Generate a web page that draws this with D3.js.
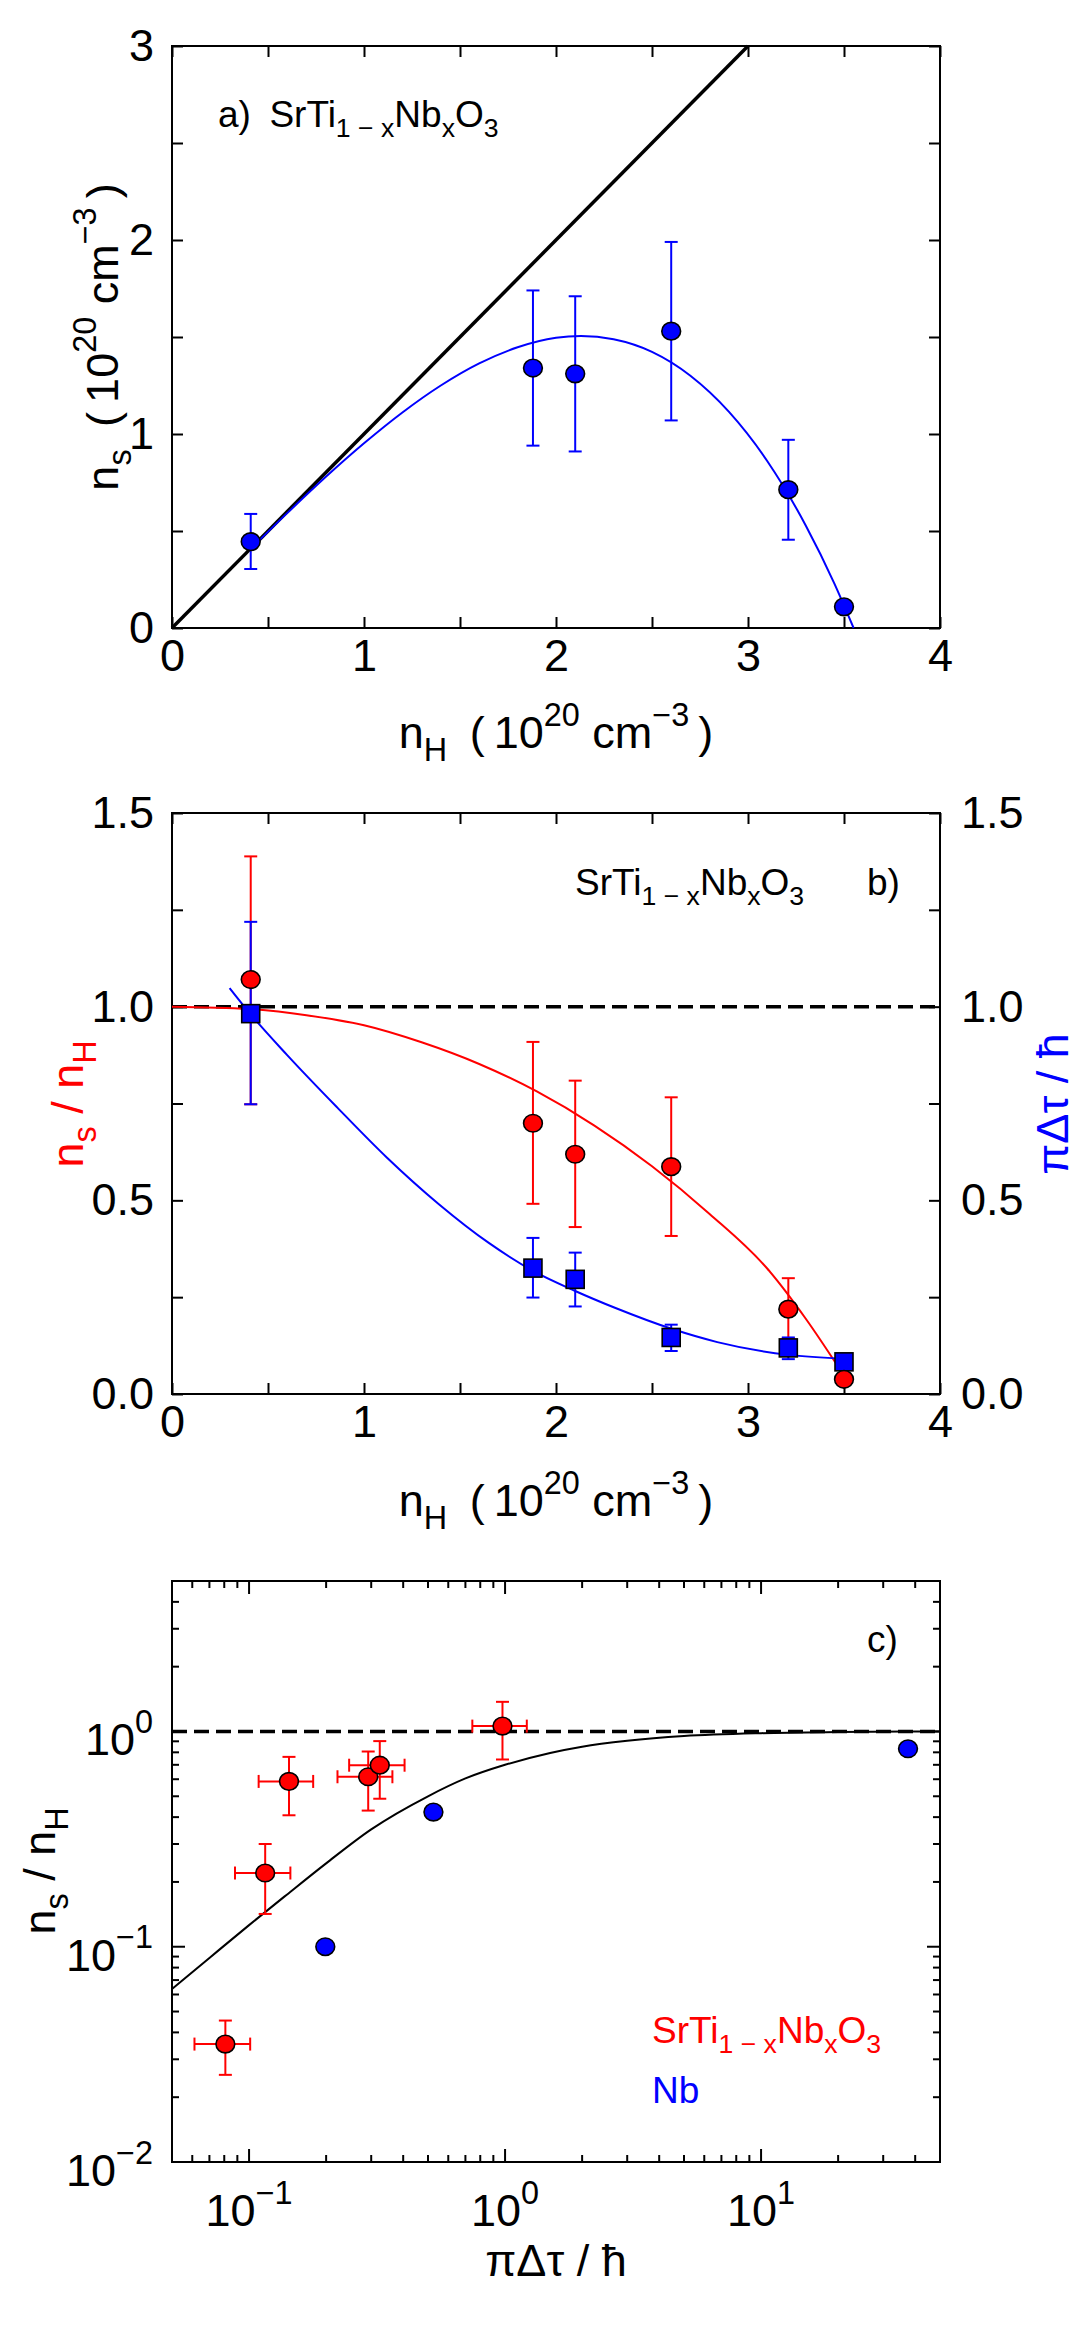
<!DOCTYPE html>
<html><head><meta charset="utf-8">
<script src="https://cdn.jsdelivr.net/npm/d3@7"></script>
<style>body{margin:0;background:#fff}</style>
</head><body>
<svg id="fig" width="1080" height="2325"></svg>
<script>
// ---------- data ----------
// Panel a
const nH      = [0.41, 1.88, 2.10, 2.60, 3.21, 3.50];
const nsA     = [0.445, 1.34, 1.31, 1.53, 0.713, 0.109];
const nsA_lo  = [0.304, 0.94, 0.91, 1.07, 0.455, null];
const nsA_hi  = [0.588, 1.74, 1.71, 1.99, 0.97, null];
const lineA_x = [0, 3];
const lineA_y = [0, 3];
const fitA_x  = [0.42, 0.6, 0.8, 1.0, 1.2, 1.4, 1.6, 1.8, 2.0, 2.13, 2.3, 2.5, 2.7, 2.9, 3.1, 3.3, 3.45, 3.55];
const fitA_y  = [0.418, 0.592, 0.778, 0.952, 1.111, 1.250, 1.364, 1.447, 1.496, 1.505, 1.488, 1.423, 1.30, 1.115, 0.861, 0.530, 0.229, 0.0];

// Panel b
const ratioB    = [1.07, 0.699, 0.619, 0.587, 0.219, 0.038];
const ratioB_lo = [0.748, 0.491, 0.431, 0.408, 0.144, null];
const ratioB_hi = [1.388, 0.909, 0.809, 0.766, 0.299, null];
const gapB      = [0.982, 0.325, 0.296, 0.146, 0.119, 0.083];
const gapB_lo   = [0.748, 0.249, 0.226, 0.111, 0.090, null];
const gapB_hi   = [1.219, 0.403, 0.365, 0.179, 0.146, null];
const fitR_x = [0, 0.4, 0.7, 1.0, 1.3, 1.6, 1.9, 2.2, 2.5, 2.8, 3.1, 3.3, 3.49];
const fitR_y = [1.0, 0.994, 0.978, 0.952, 0.908, 0.852, 0.781, 0.693, 0.588, 0.465, 0.324, 0.195, 0.055];
const fitG_x = [0.30, 0.41, 0.6, 0.86, 1.12, 1.39, 1.65, 1.88, 2.10, 2.31, 2.61, 2.84, 3.21, 3.51];
const fitG_y = [1.048, 0.98, 0.875, 0.74, 0.61, 0.49, 0.39, 0.318, 0.266, 0.222, 0.167, 0.134, 0.101, 0.091];
const refLevel = 1;

// Panel c
const redC_x   = [0.0808, 0.1156, 0.1432, 0.292, 0.324, 0.977];
const redC_y   = [0.0353, 0.220, 0.586, 0.616, 0.697, 1.059];
const redC_xlo = [0.0612, 0.0881, 0.109, 0.2215, 0.246, 0.745];
const redC_xhi = [0.101, 0.145, 0.178, 0.363, 0.405, 1.216];
const redC_ylo = [0.0254, 0.142, 0.408, 0.429, 0.487, 0.741];
const redC_yhi = [0.0454, 0.300, 0.762, 0.807, 0.902, 1.373];
const blueC_x  = [0.1985, 0.525, 37.5];
const blueC_y  = [0.100, 0.422, 0.831];
const curveC_x = [0.05, 0.07, 0.1, 0.14, 0.2, 0.3, 0.5, 0.7, 1.0, 1.5, 2, 3, 5, 10, 20, 50];
const curveC_y = [0.0636, 0.0887, 0.126, 0.174, 0.244, 0.351, 0.50, 0.605, 0.70, 0.795, 0.85, 0.905, 0.952, 0.982, 0.994, 1.0];

// ticks
const linXMajor = [0, 1, 2, 3, 4];
const linXAll   = [0, 0.5, 1, 1.5, 2, 2.5, 3, 3.5, 4];
const aYMajor   = [0, 1, 2, 3];
const aYAll     = [0, 0.5, 1, 1.5, 2, 2.5, 3];
const bYMajor   = [0, 0.5, 1.0, 1.5];
const bYAll     = [0, 0.25, 0.5, 0.75, 1.0, 1.25, 1.5];
const cXDecades = [0.1, 1, 10];
const cXExp     = ["\u22121", "0", "1"];
const cYDecades = [0.01, 0.1, 1];
const cYExp     = ["\u22122", "\u22121", "0"];

// ---------- drawing ----------
const FONT = "'Liberation Sans', Arial, Helvetica, sans-serif";
const TICKFS = 45, LABFS = 45, ANNFS = 37;
const RED = "#ff0000", BLUE = "#0000ff";
const L = 172, R = 940;
const svg = d3.select("#fig").attr("font-family", FONT);
svg.append("rect").attr("width", 1080).attr("height", 2325).attr("fill", "#fff");

function rich(text, parts, fs) {
  let cur = 0;
  parts.forEach(p => {
    const sz = p[1] ? fs * 0.72 : fs;
    const off = p[1] === "sub" ? fs * 0.28 : p[1] === "sup" ? -fs * 0.5 : 0;
    text.append("tspan").attr("font-size", sz).attr("dy", off - cur).text(p[0]);
    cur = off;
  });
  return text;
}
function label(x, y, parts, fs, opt = {}) {
  const t = svg.append("text")
    .attr("transform", `translate(${x},${y})` + (opt.rot ? ` rotate(${opt.rot})` : ""))
    .attr("text-anchor", opt.anchor || "middle")
    .attr("font-size", fs).attr("fill", opt.fill || "#000")
    .style("white-space", "pre");
  return rich(t, parts, fs);
}
function styleAxis(g) {
  g.select(".domain").remove();
  g.selectAll(".tick line").attr("stroke", "#000").attr("stroke-width", 2);
  g.selectAll(".tick text").attr("font-family", FONT).attr("font-size", TICKFS).attr("fill", "#000");
  g.attr("font-family", null).attr("font-size", null);
}
function linFrame(x, y, xAll, xMaj, yAll, yMaj, yfmt, rightLabels) {
  const [y0, y1] = y.range();
  const fx = d => xMaj.includes(d) ? d3.format("d")(d) : "";
  const fy = d => yMaj.includes(d) ? yfmt(d) : "";
  svg.append("g").attr("transform", `translate(0,${y0})`)
    .call(d3.axisBottom(x).tickValues(xAll).tickSize(-11).tickPadding(11).tickFormat(fx)).call(styleAxis);
  svg.append("g").attr("transform", `translate(0,${y1})`)
    .call(d3.axisTop(x).tickValues(xAll).tickSize(-11).tickFormat("")).call(styleAxis);
  svg.append("g").attr("transform", `translate(${L},0)`)
    .call(d3.axisLeft(y).tickValues(yAll).tickSize(-11).tickPadding(18).tickFormat(fy)).call(styleAxis);
  svg.append("g").attr("transform", `translate(${R},0)`)
    .call(d3.axisRight(y).tickValues(yAll).tickSize(-11).tickPadding(21).tickFormat(rightLabels ? fy : "")).call(styleAxis);
  svg.append("rect").attr("x", L).attr("y", y1).attr("width", R - L).attr("height", y0 - y1)
    .attr("fill", "none").attr("stroke", "#000").attr("stroke-width", 2);
}
function zip(a, b) { return a.map((v, i) => [v, b[i]]); }
function drawLine(g, x, y, xs, ys, color, width, dash) {
  const p = g.append("path").datum(zip(xs, ys))
    .attr("d", d3.line().x(d => x(d[0])).y(d => y(d[1])).curve(d3.curveMonotoneX))
    .attr("fill", "none").attr("stroke", color).attr("stroke-width", width);
  if (dash) p.attr("stroke-dasharray", dash);
  return p;
}
function vErr(g, x, y, xs, lo, hi, color) {
  xs.forEach((v, i) => {
    if (lo[i] == null) return;
    const cx = x(v), a = y(lo[i]), b = y(hi[i]);
    g.append("line").attr("x1", cx).attr("x2", cx).attr("y1", a).attr("y2", b).attr("stroke", color).attr("stroke-width", 2);
    [a, b].forEach(yy => g.append("line").attr("x1", cx - 6.5).attr("x2", cx + 6.5).attr("y1", yy).attr("y2", yy).attr("stroke", color).attr("stroke-width", 2));
  });
}
function hErr(g, x, y, ys, lo, hi, color) {
  ys.forEach((v, i) => {
    const cy = y(v), a = x(lo[i]), b = x(hi[i]);
    g.append("line").attr("x1", a).attr("x2", b).attr("y1", cy).attr("y2", cy).attr("stroke", color).attr("stroke-width", 2);
    [a, b].forEach(xx => g.append("line").attr("x1", xx).attr("x2", xx).attr("y1", cy - 6.5).attr("y2", cy + 6.5).attr("stroke", color).attr("stroke-width", 2));
  });
}
function circles(g, x, y, xs, ys, color) {
  g.selectAll(null).data(zip(xs, ys)).join("ellipse")
    .attr("cx", d => x(d[0])).attr("cy", d => y(d[1])).attr("rx", 9.4).attr("ry", 8.8)
    .attr("fill", color).attr("stroke", "#000").attr("stroke-width", 1.6);
}
function squares(g, x, y, xs, ys, color) {
  g.selectAll(null).data(zip(xs, ys)).join("rect")
    .attr("x", d => x(d[0]) - 9).attr("y", d => y(d[1]) - 9).attr("width", 18).attr("height", 18)
    .attr("fill", color).attr("stroke", "#000").attr("stroke-width", 1.6);
}
const SUBF = [["SrTi"], ["1 \u2212 x", "sub"], ["Nb"], ["x", "sub"], ["O"], ["3", "sub"]];
const nUnit = (s) => [["n"], [s, "sub"], ["\u2002(\u200910"], ["20", "sup"], [" cm"], ["\u22123", "sup"], ["\u2009)"]];
const nRatio = [["n"], ["s", "sub"], [" / n"], ["H", "sub"]];

// ===== Panel a =====
const xA = d3.scaleLinear([0, 4], [L, R]);
const yA = d3.scaleLinear([0, 3], [628, 46]);
linFrame(xA, yA, linXAll, linXMajor, aYAll, aYMajor, d3.format("d"), false);
const gA = svg.append("g");
drawLine(gA, xA, yA, lineA_x, lineA_y, "#000", 3.5);
drawLine(gA, xA, yA, fitA_x, fitA_y, BLUE, 2);
vErr(gA, xA, yA, nH, nsA_lo, nsA_hi, BLUE);
circles(gA, xA, yA, nH, nsA, BLUE);
label(218, 127, [["a)\u2002"]].concat(SUBF), ANNFS, {anchor: "start"});
label(556, 748, nUnit("H"), LABFS);
label(118, 337, nUnit("s"), LABFS, {rot: -90});

// ===== Panel b =====
const xB = d3.scaleLinear([0, 4], [L, R]);
const yB = d3.scaleLinear([0, 1.5], [1394, 813]);
linFrame(xB, yB, linXAll, linXMajor, bYAll, bYMajor, d3.format(".1f"), true);
const gB = svg.append("g");
drawLine(gB, xB, yB, [0, 4], [refLevel, refLevel], "#000", 3.5, "15,7");
drawLine(gB, xB, yB, fitR_x, fitR_y, RED, 2);
drawLine(gB, xB, yB, fitG_x, fitG_y, BLUE, 2);
vErr(gB, xB, yB, nH, ratioB_lo, ratioB_hi, RED);
vErr(gB, xB, yB, nH, gapB_lo, gapB_hi, BLUE);
squares(gB, xB, yB, nH, gapB, BLUE);
circles(gB, xB, yB, nH, ratioB, RED);
label(575, 895, SUBF, ANNFS, {anchor: "start"});
label(867, 895, [["b)"]], ANNFS, {anchor: "start"});
label(556, 1516, nUnit("H"), LABFS);
label(83, 1104, nRatio, LABFS, {rot: -90, fill: RED});
label(1068, 1104, [["\u03c0\u0394\u03c4 / \u0127"]], LABFS, {rot: -90, fill: BLUE});

// ===== Panel c =====
const xC = d3.scaleLog([0.05, 50], [L, R]);
const yC = d3.scaleLog([0.01, 5], [2162, 1581]);
function logTicks(dom) {
  const out = [];
  for (let e = -3; e <= 2; e++) for (let m = 1; m <= 9; m++) {
    const v = m * Math.pow(10, e);
    if (v >= dom[0] * 0.999 && v <= dom[1] * 1.001) out.push({v, major: m === 1});
  }
  return out;
}
const gC = svg.append("g");
logTicks(xC.domain()).forEach(t => {
  const len = t.major ? 13 : 7, xx = xC(t.v);
  gC.append("line").attr("x1", xx).attr("x2", xx).attr("y1", 2162).attr("y2", 2162 - len).attr("stroke", "#000").attr("stroke-width", 2);
  gC.append("line").attr("x1", xx).attr("x2", xx).attr("y1", 1581).attr("y2", 1581 + len).attr("stroke", "#000").attr("stroke-width", 2);
});
logTicks(yC.domain()).forEach(t => {
  const len = t.major ? 13 : 7, yy = yC(t.v);
  gC.append("line").attr("x1", L).attr("x2", L + len).attr("y1", yy).attr("y2", yy).attr("stroke", "#000").attr("stroke-width", 2);
  gC.append("line").attr("x1", R).attr("x2", R - len).attr("y1", yy).attr("y2", yy).attr("stroke", "#000").attr("stroke-width", 2);
});
svg.append("rect").attr("x", L).attr("y", 1581).attr("width", R - L).attr("height", 2162 - 1581)
  .attr("fill", "none").attr("stroke", "#000").attr("stroke-width", 2);
cXDecades.forEach((v, i) => label(xC(v), 2226, [["10"], [cXExp[i], "sup"]], TICKFS));
cYDecades.forEach((v, i) => label(153, yC(v) + 24, [["10"], [cYExp[i], "sup"]], TICKFS, {anchor: "end"}));
drawLine(gC, xC, yC, [0.05, 50], [refLevel, refLevel], "#000", 3.5, "15,7");
drawLine(gC, xC, yC, curveC_x, curveC_y, "#000", 2);
hErr(gC, xC, yC, redC_y, redC_xlo, redC_xhi, RED);
vErr(gC, xC, yC, redC_x, redC_ylo, redC_yhi, RED);
circles(gC, xC, yC, redC_x, redC_y, RED);
circles(gC, xC, yC, blueC_x, blueC_y, BLUE);
label(867, 1652, [["c)"]], ANNFS, {anchor: "start"});
label(652, 2043, SUBF, ANNFS, {anchor: "start", fill: RED});
label(652, 2103, [["Nb"]], ANNFS, {anchor: "start", fill: BLUE});
label(556, 2276, [["\u03c0\u0394\u03c4 / \u0127"]], LABFS);
label(55, 1871, nRatio, LABFS, {rot: -90});
</script>
</body></html>
